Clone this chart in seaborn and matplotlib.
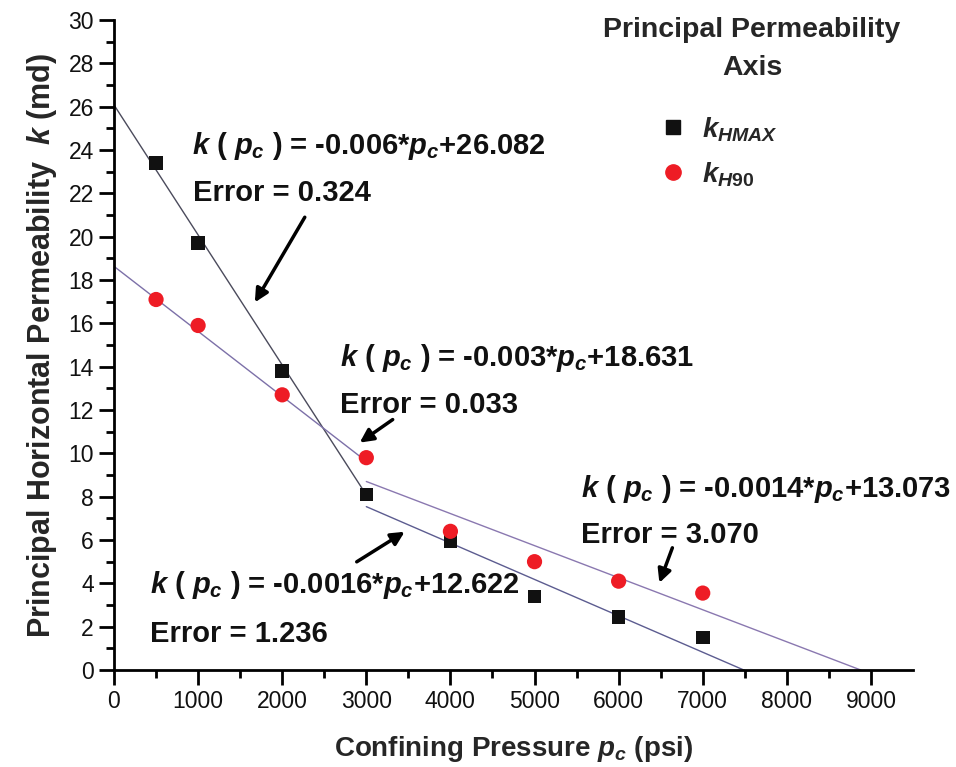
import numpy as np
import pandas as pd
import matplotlib
matplotlib.use("Agg")
import matplotlib.pyplot as plt
import seaborn as sns
from matplotlib.lines import Line2D

# ---------------- data ----------------
pressure = [500, 1000, 2000, 3000, 4000, 5000, 6000, 7000]
k_hmax = [23.4, 19.7, 13.8, 8.1, 5.95, 3.4, 2.45, 1.5]
k_h90 = [17.1, 15.9, 12.7, 9.8, 6.4, 5.0, 4.1, 3.55]
series_names = ["$k_{HMAX}$", "$k_{H90}$"]

# fitted lines (as drawn): slope, intercept, x range
fit_slope = [-0.006, -0.003, -0.00168, -0.00148]
fit_intercept = [26.08, 18.63, 12.58, 13.14]
fit_x0 = [0, 0, 3000, 3000]
fit_x1 = [2950, 2950, 7500, 8880]
fit_labels = [
    ("-0.006", "26.082", "0.324"),
    ("-0.003", "18.631", "0.033"),
    ("-0.0016", "12.622", "1.236"),
    ("-0.0014", "13.073", "3.070"),
]

xticks = [0, 1000, 2000, 3000, 4000, 5000, 6000, 7000, 8000, 9000]
yticks = list(range(0, 31, 2))

# ---------------- style ----------------
sns.set_theme(style="ticks")
plt.rcParams["font.family"] = ["Liberation Sans", "DejaVu Sans"]
plt.rcParams["mathtext.fontset"] = "custom"
plt.rcParams["mathtext.it"] = "Liberation Sans:italic:bold"
plt.rcParams["mathtext.rm"] = "Liberation Sans:bold"
plt.rcParams["mathtext.bf"] = "Liberation Sans:bold"

fig = plt.figure(figsize=(9.56, 7.67), dpi=100)
ax = fig.add_axes([114 / 956, 1 - 670 / 767, (913 - 114) / 956, (670 - 20) / 767])

df = pd.DataFrame({
    "pressure": pressure * 2,
    "k": k_hmax + k_h90,
    "axis": [series_names[0]] * len(pressure) + [series_names[1]] * len(pressure),
})

# fit lines
line_colors = ["#4b4b5c", "#7c70a8", "#5c5c90", "#8a78b0"]
for i in range(4):
    xs = np.array([fit_x0[i], fit_x1[i]], dtype=float)
    ys = fit_slope[i] * xs + fit_intercept[i]
    ax.plot(xs, ys, color=line_colors[i], lw=1.0, zorder=2)

sns.scatterplot(
    data=df, x="pressure", y="k", hue="axis", style="axis", size="axis",
    palette={series_names[0]: "#111111", series_names[1]: "#ee1c25"},
    markers={series_names[0]: "s", series_names[1]: "o"},
    sizes={series_names[0]: 95, series_names[1]: 120},
    edgecolor="none", ax=ax, legend=False, zorder=3,
)

ax.set_xlim(0, 9500)
ax.set_ylim(0, 30)
ax.set_xticks(xticks)
ax.set_yticks(yticks)
ax.set_xticks(np.arange(500, 9500, 1000), minor=True)
ax.set_yticks(np.arange(1, 30, 2), minor=True)
ax.tick_params(axis="both", which="major", length=11, width=2, labelsize=16.5,
               direction="out", color="black", labelcolor="#111111")
ax.tick_params(axis="both", which="minor", length=6, width=2, direction="out", color="black")
for s in ["left", "bottom"]:
    ax.spines[s].set_linewidth(2)
    ax.spines[s].set_color("black")
ax.spines["top"].set_visible(False)
ax.spines["right"].set_visible(False)

ax.set_xlabel("Confining Pressure $p_c$ (psi)", fontsize=20, fontweight="bold", labelpad=15)
ax.set_ylabel("Principal Horizontal Permeability  $k$ (md)", fontsize=22,
              fontweight="bold", labelpad=7)

# equation texts
def px2data(px, py):
    return ((px - 114) / 84.2 * 1000, (670 - py) / 21.63)

eq_pos = [(192, 155), (340, 367), (150, 593), (582, 497)]
err_pos = [(193, 202), (340, 413), (150, 642), (582, 543)]
for i, (sl, ic, er) in enumerate(fit_labels):
    x, y = px2data(*eq_pos[i])
    ax.text(x, y, f"$k$ ( $p_c$ ) = {sl}*$p_c$+{ic}", fontsize=21, fontweight="bold",
            ha="left", va="baseline", color="#111111")
    x, y = px2data(*err_pos[i])
    ax.text(x, y, f"Error = {er}", fontsize=21, fontweight="bold",
            ha="left", va="baseline", color="#111111")

arrows = [((305, 218), (255, 303)), ((393, 420), (360, 443)),
          ((357, 562), (405, 532)), ((673, 548), (660, 583))]
for tail, head in arrows:
    ax.annotate("", xy=px2data(*head), xytext=px2data(*tail),
                arrowprops=dict(arrowstyle="-|>", lw=2.5, color="black",
                                mutation_scale=20, shrinkA=0, shrinkB=0))

# legend
fig.text(752 / 956, 1 - 30 / 767, "Principal Permeability", ha="center", va="center",
         fontsize=20.5, fontweight="bold")
fig.text(752 / 956, 1 - 68 / 767, "Axis", ha="center", va="center",
         fontsize=20.5, fontweight="bold")
handles = [
    Line2D([], [], marker="s", color="#111111", ls="none", markersize=9.5),
    Line2D([], [], marker="o", color="#ee1c25", ls="none", markersize=11),
]
leg = fig.legend(handles, series_names, loc="upper left",
                 bbox_to_anchor=(634 / 956, 1 - 90 / 767), frameon=False,
                 fontsize=20, handlelength=1.0, handletextpad=0.55, labelspacing=0.6)

fig.savefig("out.png", dpi=100)
